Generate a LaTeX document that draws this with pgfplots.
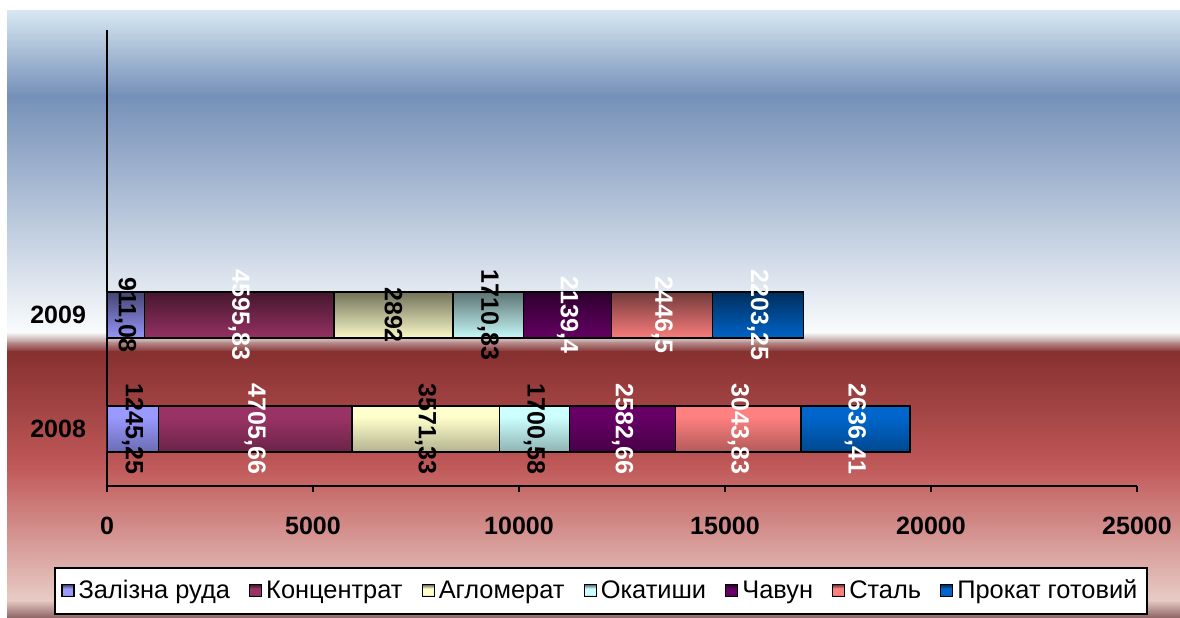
\documentclass[border=0pt]{standalone}
\usepackage{pgfplots}
\usepackage{pgfplotstable}
\pgfplotsset{compat=1.18}
\usepackage{fontspec}
\setmainfont{Liberation Sans}
\definecolor{cA}{HTML}{9999FF}
\definecolor{cB}{HTML}{993366}
\definecolor{cC}{HTML}{FFFFCC}
\definecolor{cD}{HTML}{CCFFFF}
\definecolor{cE}{HTML}{660066}
\definecolor{cF}{HTML}{FF8080}
\definecolor{cG}{HTML}{0066CC}
\definecolor{bg1}{HTML}{D8E8F2}
\definecolor{bg2}{HTML}{7590B8}
\definecolor{bg3}{HTML}{FAFCFD}
\definecolor{bg3b}{HTML}{B89090}
\definecolor{bg4}{HTML}{863030}
\definecolor{bg5}{HTML}{C05858}
\definecolor{bg6}{HTML}{E8CCC6}
\definecolor{bg7}{HTML}{906868}
\newcommand\mkshade[1]{%
  \colorlet{#1top}{#1!45!black}\colorlet{#1bot}{#1!70!black}%
  \pgfdeclareverticalshading{sh#1}{100bp}{color(0bp)=(#1bot); color(25bp)=(#1bot); color(36bp)=(#1); color(60bp)=(#1); color(75bp)=(#1top); color(100bp)=(#1top)}}
\mkshade{cA}\mkshade{cB}\mkshade{cC}\mkshade{cD}\mkshade{cE}\mkshade{cF}\mkshade{cG}
\pgfplotstableread{
yr  A        B        C        D        E        F        G
0   1245.25  4705.66  3571.33  1700.58  2582.66  3043.83  2636.41
1   911.08   4595.83  2892     1710.83  2139.4   2446.5   2203.25
}\data
\pgfplotsset{
  barstyle/.style 2 args={draw=black, line width=0.7pt, fill=#1, shade, shading=sh#1,
    every node near coord/.append style={text=#2}},
}
\begin{document}
\begin{tikzpicture}
\begin{scope}[x=0.5pt,y=0.5pt]
\fill[white] (0,0) rectangle (1180,-617);
\shade[top color=bg1,bottom color=bg2] (7,-10) rectangle (1180,-96);
\shade[top color=bg2,bottom color=bg3] (7,-95) rectangle (1180,-333);
\shade[top color=bg3,bottom color=bg3b] (7,-332) rectangle (1180,-343);
\shade[top color=bg3b,bottom color=bg4] (7,-342) rectangle (1180,-352);
\shade[top color=bg4,bottom color=bg5] (7,-351) rectangle (1180,-466);
\shade[top color=bg5,bottom color=bg6] (7,-465) rectangle (1180,-601);
\shade[top color=bg6,bottom color=bg7] (7,-600) rectangle (1180,-617);
\end{scope}
\begin{axis}[
  at={(53.5pt,-243pt)}, anchor=south west,
  scale only axis, width=515pt, height=228pt,
  xbar stacked, bar width=23pt,
  xmin=0, xmax=25000, ymin=-0.5, ymax=3.5,
  ytick={0,1}, yticklabels={2008,2009},
  xtick={0,5000,10000,15000,20000,25000},
  scaled x ticks=false,
  axis x line*=bottom, axis y line*=left,
  axis line style={-, line width=0.8pt},
  tick align=outside, major tick length=3pt,
  xtick style={line width=0.8pt, black},
  ytick style={draw=none},
  /pgf/number format/.cd, use comma, 1000 sep={}, assume math mode=true,
  /pgfplots/.cd,
  ticklabel style={font=\bfseries\fontsize{12.5}{14}\selectfont},
  xticklabel style={yshift=-9pt},
  yticklabel style={xshift=-4pt},
  nodes near coords,
  point meta=explicit,
  every node near coord/.append style={anchor=center, rotate=-90, font=\bfseries\fontsize{12.5}{14}\selectfont},
  legend style={at={(0.48,-0.23)}, anchor=center, legend columns=-1, draw=black, line width=1pt,
    font=\fontsize{12.7}{14}\selectfont, inner xsep=3pt, inner ysep=4pt,
    /tikz/every even column/.append style={column sep=7.5pt},
    /tikz/every odd column/.append style={column sep=0pt}},
  legend image code/.code={\draw[#1, line width=0.6pt] (0pt,-3pt) rectangle (6pt,3pt);},
]
\addplot[barstyle={cA}{black}] table[x=A, y=yr, meta=A] {\data};
\addplot[barstyle={cB}{white}] table[x=B, y=yr, meta=B] {\data};
\addplot[barstyle={cC}{black}] table[x=C, y=yr, meta=C] {\data};
\addplot[barstyle={cD}{black}] table[x=D, y=yr, meta=D] {\data};
\addplot[barstyle={cE}{white}] table[x=E, y=yr, meta=E] {\data};
\addplot[barstyle={cF}{white}] table[x=F, y=yr, meta=F] {\data};
\addplot[barstyle={cG}{white}] table[x=G, y=yr, meta=G] {\data};
\legend{Залізна руда, Концентрат, Агломерат, Окатиши, Чавун, Сталь, Прокат готовий}
\end{axis}
\pgfresetboundingbox
\path[use as bounding box] (0,0) rectangle (590pt,-308.5pt);
\end{tikzpicture}
\end{document}
